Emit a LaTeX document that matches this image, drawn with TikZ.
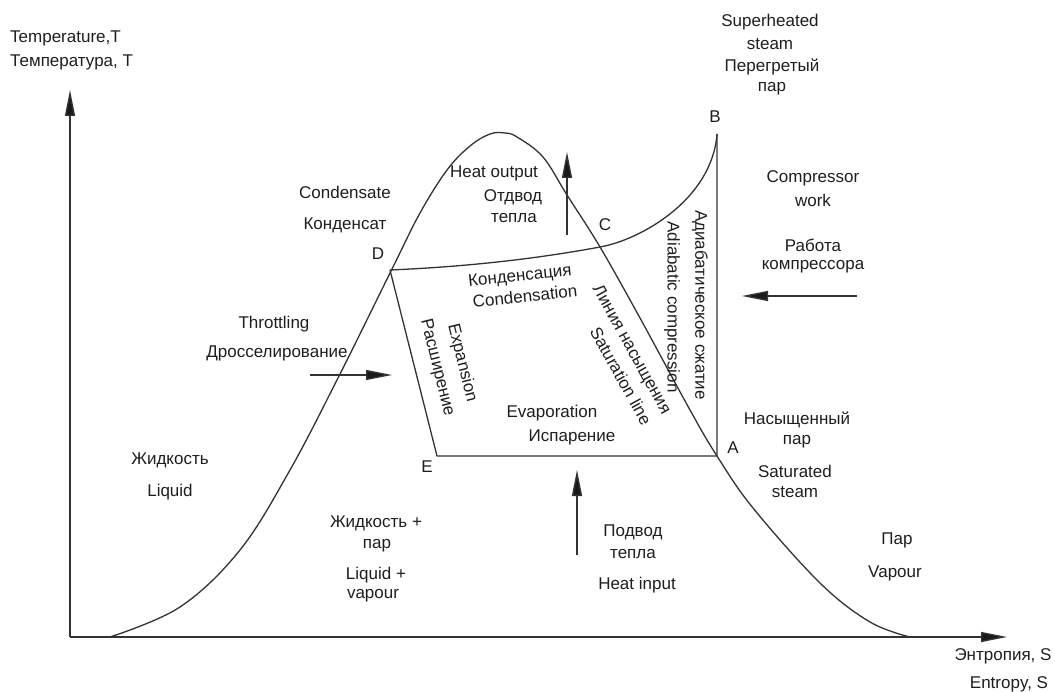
\documentclass[tikz,border=0pt]{standalone}
\usepackage{fontspec}
\setmainfont{Liberation Sans}
\usetikzlibrary{arrows.meta}
\definecolor{ln}{HTML}{333333}
\definecolor{tx}{HTML}{1E1E1E}
\begin{document}
\begin{tikzpicture}[x=1pt,y=-1pt,
  lbl/.style={font=\fontsize{17}{20}\selectfont, text=tx, inner sep=0pt, anchor=center},
  curve/.style={draw=ln, line width=1.3pt, line join=round},
  arr/.style={draw=ln, line width=1.4pt, -{Triangle[length=26pt,width=10pt,fill=black!90]}},
]
\useasboundingbox (0,0) rectangle (1055,692);
% axes
\coordinate (O) at (70,637);
\coordinate (Ytip) at (70,90);
\coordinate (Xtip) at (1007,637);
\draw[arr] (O) -- (Ytip);
\draw[arr] (O) -- (Xtip);
% saturation dome
\draw[curve] plot[smooth, tension=0.6] coordinates {(110,637) (180,607) (240,550) (290,470) (339,376) (393,267) (420,213) (447,170) (470,146) (490,134) (505,133) (517,137) (543,157) (567,195) (600,247) (640,318) (690,410) (717,456) (753,508) (820,583) (870,622) (910,637)};
% cycle corners
\coordinate (pA) at (717,456);
\coordinate (pB) at (717,134);
\coordinate (pC) at (600,247);
\coordinate (pD) at (390,270);
\coordinate (pE) at (437,456);
\draw[curve] (pD) .. controls (460,267) and (530,260) .. (pC)
             .. controls (640,240) and (712,200) .. (pB);
\draw[curve] (pB) -- (pA) -- (pE) -- (pD);
% arrows
\coordinate (hoS) at (567,235); \coordinate (hoE) at (567,152);
\coordinate (hiS) at (577,555); \coordinate (hiE) at (577,470);
\coordinate (thS) at (310,375); \coordinate (thE) at (392,375);
\coordinate (cwS) at (857,296); \coordinate (cwE) at (742,296);
\draw[arr] (hoS) -- (hoE);
\draw[arr] (hiS) -- (hiE);
\draw[arr] (thS) -- (thE);
\draw[arr] (cwS) -- (cwE);
% labels
\node[lbl, anchor=west] (t1) at (10,38) {Temperature,T};
\node[lbl, anchor=west] (t2) at (10,62) {Температура, T};
\node[lbl] (sh1) at (770,22) {Superheated};
\node[lbl] (sh2) at (770,44) {steam};
\node[lbl] (sh3) at (772,67) {Перегретый};
\node[lbl] (sh4) at (772,89) {пар};
\node[lbl] (lB) at (715,117) {B};
\node[lbl] (cw1) at (813,178) {Compressor};
\node[lbl] (cw2) at (813,200) {work};
\node[lbl] (cw3) at (813,245) {Работа};
\node[lbl] (cw4) at (813,267) {компрессора};
\node[lbl] (cd1) at (345,192) {Condensate};
\node[lbl] (cd2) at (345,225) {Конденсат};
\node[lbl] (ho1) at (494,173) {Heat output};
\node[lbl] (ho2) at (513,197) {Отдвод};
\node[lbl] (ho3) at (514,218) {тепла};
\node[lbl] (lC) at (605,225) {C};
\node[lbl] (lD) at (378,254) {D};
\node[lbl, rotate=6] (cn1) at (520,277) {Конденсация};
\node[lbl, rotate=6] (cn2) at (525,296) {Condensation};
\node[lbl] (th1) at (274,324) {Throttling};
\node[lbl] (th2) at (277,353) {Дросселирование};
\node[lbl, rotate=-76] (ex1) at (462,363) {Expansion};
\node[lbl, rotate=-76] (ex2) at (437,368) {Расширение};
\node[lbl, rotate=-61] (sl1) at (631,350) {Линия насыщения};
\node[lbl, rotate=-61] (sl2) at (621,376) {Saturation line};
\node[lbl, rotate=-90] (ad1) at (700,305) {Адиабатическое сжатие};
\node[lbl, rotate=-90] (ad2) at (672,307) {Adiabatic compression};
\node[lbl] (ev1) at (552,413) {Evaporation};
\node[lbl] (ev2) at (572,437) {Испарение};
\node[lbl] (lE) at (427,467) {E};
\node[lbl] (lA) at (733,448) {A};
\node[lbl] (ss1) at (797,420) {Насыщенный};
\node[lbl] (ss2) at (797,442) {пар};
\node[lbl] (ss3) at (795,471) {Saturated};
\node[lbl] (ss4) at (795,492) {steam};
\node[lbl] (lq1) at (170,460) {Жидкость};
\node[lbl] (lq2) at (170,492) {Liquid};
\node[lbl] (lv1) at (376,523) {Жидкость +};
\node[lbl] (lv2) at (377,546) {пар};
\node[lbl] (lv3) at (376,575) {Liquid +};
\node[lbl] (lv4) at (373,596) {vapour};
\node[lbl] (hi1) at (633,532) {Подвод};
\node[lbl] (hi2) at (633,554) {тепла};
\node[lbl] (hi3) at (637,585) {Heat input};
\node[lbl] (vp1) at (897,540) {Пар};
\node[lbl] (vp2) at (895,573) {Vapour};
\node[lbl] (en1) at (1003,656) {Энтропия, S};
\node[lbl] (en2) at (1009,684) {Entropy, S};
\end{tikzpicture}
\end{document}
